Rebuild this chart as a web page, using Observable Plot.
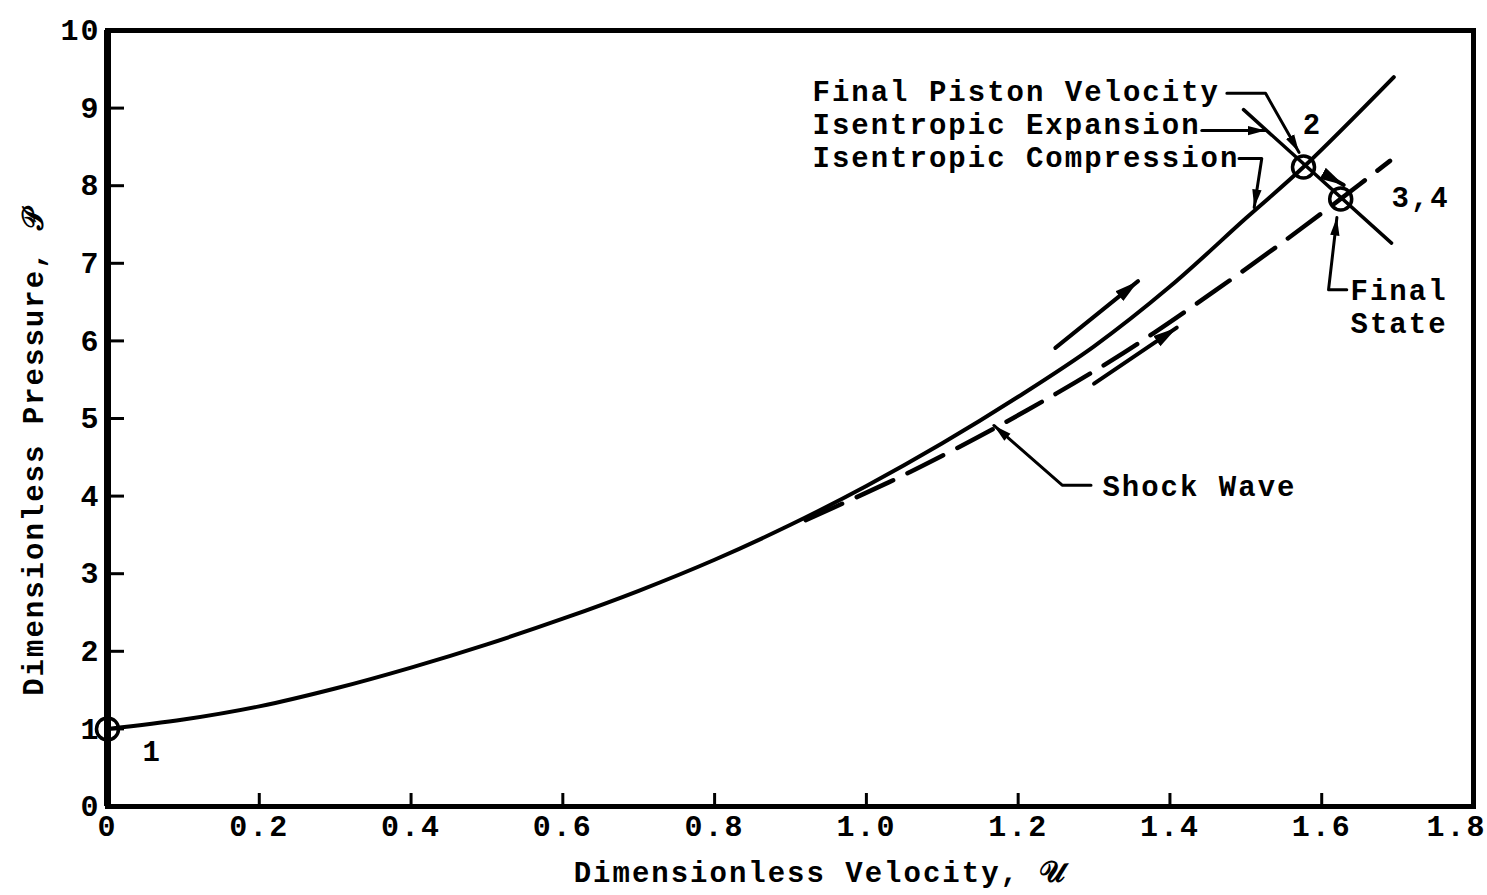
<!DOCTYPE html>
<html>
<head>
<meta charset="utf-8">
<script src="https://cdn.jsdelivr.net/npm/d3@7"></script>
<script src="https://cdn.jsdelivr.net/npm/@observablehq/plot@0.6"></script>
<style>
  html, body { margin: 0; padding: 0; background: #fff; }
  #chart svg { display: block; }
  #chart svg text { letter-spacing: 2px; }
</style>
</head>
<body>
<div id="chart"></div>
<script>
// Isentropic compression curve, state 1 -> 2 and beyond
const compressionU = [0, 0.1, 0.2, 0.3, 0.4, 0.5, 0.6, 0.7, 0.8, 0.9, 1.0, 1.1, 1.2, 1.3, 1.4, 1.5, 1.576, 1.695];
const compressionP = [1.00, 1.12, 1.29, 1.52, 1.79, 2.09, 2.42, 2.78, 3.18, 3.63, 4.13, 4.68, 5.28, 5.93, 6.70, 7.58, 8.24, 9.40];

// Shock wave curve (dashed), through state 3,4
const shockU = [0.92, 1.03, 1.10, 1.17, 1.25, 1.32, 1.38, 1.46, 1.54, 1.625, 1.69];
const shockP = [3.69, 4.18, 4.52, 4.88, 5.32, 5.73, 6.11, 6.65, 7.21, 7.83, 8.32];

// Isentropic expansion line through 2 and 3,4
const expansionU = [1.497, 1.692];
const expansionP = [8.98, 7.26];

// Marked states
const stateName = ["1", "2", "3,4"];
const stateU = [0, 1.576, 1.625];
const stateP = [1.0, 8.24, 7.83];

// Direction-of-travel arrows beside the curves
const travelArrows = [
  [[1.249, 5.91], [1.358, 6.77]],
  [[1.300, 5.45], [1.409, 6.17]],
  [[1.605, 8.14], [1.629, 8.01]]
];

// Leader lines from the annotations
const leaders = [
  [[1.475, 9.19], [1.526, 9.19], [1.570, 8.43]],   // Final Piston Velocity
  [[1.442, 8.71], [1.526, 8.71]],                  // Isentropic Expansion
  [[1.491, 8.35], [1.521, 8.35], [1.511, 7.72]],   // Isentropic Compression
  [[1.633, 6.66], [1.609, 6.66], [1.620, 7.59]],   // Final State
  [[1.296, 4.14], [1.258, 4.14], [1.168, 4.91]]    // Shock Wave
];

// Annotation texts and their anchors
const noteText = ["Final Piston Velocity", "Isentropic Expansion", "Isentropic Compression", "Final", "State", "Shock Wave", "2", "3,4", "1"];
const noteU = [0.929, 0.929, 0.929, 1.638, 1.638, 1.311, 1.575, 1.692, 0.046];
const noteP = [9.21, 8.79, 8.36, 6.65, 6.22, 4.12, 8.78, 7.85, 0.70];

// Axis ticks
const xTicks = [0, 0.2, 0.4, 0.6, 0.8, 1.0, 1.2, 1.4, 1.6, 1.8];
const yTicks = [0, 1, 2, 3, 4, 5, 6, 7, 8, 9, 10];
const xLabel = "Dimensionless Velocity, 𝒰";
const yLabel = "Dimensionless Pressure, 𝒫";

const W = 1487, H = 895;
const margin = {top: 30, right: 14, bottom: 89, left: 107};
const innerW = W - margin.left - margin.right;
const innerH = H - margin.top - margin.bottom;
const FONT = "'Liberation Mono', 'DejaVu Sans Mono', monospace";

const pts = (us, ps) => us.map((u, i) => ({u, p: ps[i]}));
const compression = pts(compressionU, compressionP);
const shock = pts(shockU, shockP);
const expansion = pts(expansionU, expansionP);
const states = stateName.map((name, i) => ({name, u: stateU[i], p: stateP[i]}));
const notes = noteText.map((t, i) => ({t, u: noteU[i], p: noteP[i]}));
const tickFmt = d => d === 0 ? "0" : d.toFixed(1);

// filled, slender arrowhead
function arrowHead(color, context) {
  const ns = "http://www.w3.org/2000/svg";
  const doc = context && context.document ? context.document : document;
  const m = doc.createElementNS(ns, "marker");
  m.setAttribute("viewBox", "-10 -5 10 10");
  m.setAttribute("refX", "0");
  m.setAttribute("refY", "0");
  m.setAttribute("markerWidth", "6");
  m.setAttribute("markerHeight", "6");
  m.setAttribute("orient", "auto");
  const path = doc.createElementNS(ns, "path");
  path.setAttribute("d", "M-10,-2.6L0,0L-10,2.6Z");
  path.setAttribute("fill", color);
  path.setAttribute("stroke", "none");
  m.appendChild(path);
  return m;
}

const segs = (list) => list.flatMap((seg, k) => seg.map(([u, p]) => ({k, u, p})));

const chart = Plot.plot({
  width: W,
  height: H,
  marginTop: margin.top,
  marginRight: margin.right,
  marginBottom: margin.bottom,
  marginLeft: margin.left,
  style: {fontFamily: FONT, fontSize: "29px", color: "#000", background: "#fff", fontWeight: "bold"},
  x: {domain: [0, 1.8]},
  y: {domain: [0, 10]},
  marks: [
    // inward ticks
    Plot.tickX(xTicks.slice(1, -1), {x: d => d, insetTop: innerH - 13, strokeWidth: 3}),
    Plot.tickY(yTicks.slice(1, -1), {y: d => d, insetRight: innerW - 17, strokeWidth: 3}),
    Plot.axisX(xTicks.slice(0, -1), {tickSize: 0, tickPadding: 8, label: null, fontSize: 30, tickFormat: tickFmt}),
    Plot.axisX(xTicks.slice(-1), {tickSize: 0, tickPadding: 8, label: null, fontSize: 30, tickFormat: tickFmt, dx: -17}),
    Plot.axisY(yTicks, {tickSize: 0, tickPadding: 7, label: null, fontSize: 30, tickFormat: d => `${d}`}),
    Plot.frame({strokeWidth: 5}),
    Plot.ruleX([0], {strokeWidth: 7}),

    // curves
    Plot.line(compression, {x: "u", y: "p", curve: "catmull-rom", strokeWidth: 4}),
    Plot.line(shock, {x: "u", y: "p", curve: "catmull-rom", strokeWidth: 4.5, strokeDasharray: "40,16"}),
    Plot.line(expansion, {x: "u", y: "p", strokeWidth: 3.5}),

    // arrows and leaders
    Plot.line(segs(travelArrows), {x: "u", y: "p", z: "k", strokeWidth: 4, markerEnd: arrowHead}),
    Plot.line(segs(leaders), {x: "u", y: "p", z: "k", strokeWidth: 3, markerEnd: arrowHead}),

    // state circles
    Plot.dot(states, {x: "u", y: "p", r: 11, stroke: "#000", strokeWidth: 3.5, fill: "none"}),

    // annotations
    Plot.text(notes, {x: "u", y: "p", text: "t", textAnchor: "start", fontSize: 29}),

    // axis titles
    Plot.text([xLabel], {frameAnchor: "bottom", textAnchor: "middle", dx: 30, dy: 75, fontSize: 29}),
    Plot.text([yLabel], {frameAnchor: "left", textAnchor: "middle", rotate: -90, dx: -74, dy: 33, fontSize: 29})
  ]
});

document.getElementById("chart").appendChild(chart);
</script>
</body>
</html>
